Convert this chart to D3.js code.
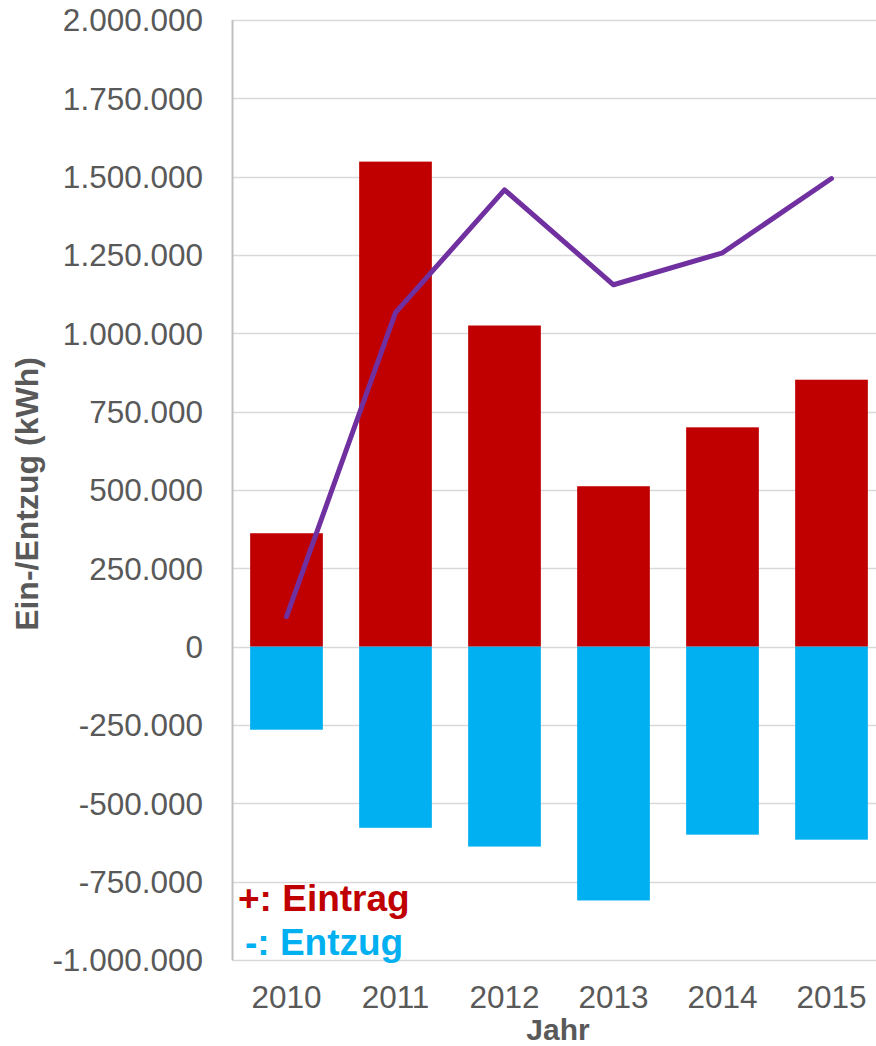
<!DOCTYPE html>
<html>
<head>
<meta charset="utf-8">
<script src="https://cdn.jsdelivr.net/npm/d3@7"></script>
<style>
  body { margin: 0; background: #fff; }
  svg { display: block; font-family: "Liberation Sans", Arial, sans-serif; }
</style>
</head>
<body>
<svg width="876" height="1046"></svg>
<script>
const years = ["2010", "2011", "2012", "2013", "2014", "2015"];
const eintrag = [362000, 1548000, 1025000, 512000, 700000, 852000];
const entzug = [-265000, -578000, -638000, -810000, -600000, -616000];
const saldo = [96000, 1066000, 1458000, 1155000, 1257000, 1494000];
const yTicks = [-1000000, -750000, -500000, -250000, 0, 250000, 500000, 750000, 1000000, 1250000, 1500000, 1750000, 2000000];

const svg = d3.select("svg");
const plotLeft = 232, plotRight = 886, plotTop = 20, plotBottom = 960;

const x = d3.scaleBand().domain(years).range([plotLeft, plotRight]).paddingInner(0.333).paddingOuter(0.1665);
const y = d3.scaleLinear().domain([-1000000, 2000000]).range([plotBottom, plotTop]);

// German style thousands, plain hyphen for negatives
const fmt = d => d3.format(",")(d).replace(/,/g, ".").replace("\u2212", "-");

// grid
svg.append("g")
  .selectAll("line")
  .data(yTicks)
  .join("line")
  .attr("x1", plotLeft).attr("x2", plotRight)
  .attr("y1", d => Math.round(y(d)) + 0.5).attr("y2", d => Math.round(y(d)) + 0.5)
  .attr("stroke", "#d9d9d9").attr("stroke-width", 1.5);

// y axis line
svg.append("line")
  .attr("x1", plotLeft + 0.5).attr("x2", plotLeft + 0.5)
  .attr("y1", plotTop).attr("y2", plotBottom)
  .attr("stroke", "#bfbfbf").attr("stroke-width", 2);

// tick labels
svg.append("g")
  .selectAll("text")
  .data(yTicks)
  .join("text")
  .attr("x", 203)
  .attr("y", d => y(d))
  .attr("dy", "0.36em")
  .attr("text-anchor", "end")
  .attr("font-size", 31.5)
  .attr("fill", "#595959")
  .text(fmt);

// bars
svg.append("g")
  .selectAll("rect")
  .data(years)
  .join("rect")
  .attr("x", d => x(d))
  .attr("width", x.bandwidth())
  .attr("y", (d, i) => y(eintrag[i]))
  .attr("height", (d, i) => y(0) - y(eintrag[i]))
  .attr("fill", "#c00000");

svg.append("g")
  .selectAll("rect")
  .data(years)
  .join("rect")
  .attr("x", d => x(d))
  .attr("width", x.bandwidth())
  .attr("y", y(0))
  .attr("height", (d, i) => y(entzug[i]) - y(0))
  .attr("fill", "#00b0f0");

// line
const line = d3.line()
  .x((d, i) => x(years[i]) + x.bandwidth() / 2)
  .y(d => y(d));

svg.append("path")
  .datum(saldo)
  .attr("d", line)
  .attr("fill", "none")
  .attr("stroke", "#7030a0")
  .attr("stroke-width", 5)
  .attr("stroke-linecap", "round")
  .attr("stroke-linejoin", "round");

// x labels
svg.append("g")
  .selectAll("text")
  .data(years)
  .join("text")
  .attr("x", d => x(d) + x.bandwidth() / 2)
  .attr("y", 1008)
  .attr("text-anchor", "middle")
  .attr("font-size", 31.5)
  .attr("fill", "#595959")
  .text(d => d);

// axis titles
svg.append("text")
  .attr("x", 558).attr("y", 1040)
  .attr("text-anchor", "middle")
  .attr("font-size", 30).attr("font-weight", "bold")
  .attr("fill", "#595959")
  .text("Jahr");

svg.append("text")
  .attr("transform", "translate(38,494) rotate(-90)")
  .attr("text-anchor", "middle")
  .attr("font-size", 32).attr("font-weight", "bold")
  .attr("fill", "#595959")
  .text("Ein-/Entzug (kWh)");

// legend text
svg.append("text")
  .attr("x", 238).attr("y", 911)
  .attr("font-size", 37).attr("font-weight", "bold")
  .attr("fill", "#c00000")
  .text("+: Eintrag");

svg.append("text")
  .attr("x", 245).attr("y", 955)
  .attr("font-size", 37).attr("font-weight", "bold")
  .attr("fill", "#00b0f0")
  .text("-: Entzug");
</script>
</body>
</html>
